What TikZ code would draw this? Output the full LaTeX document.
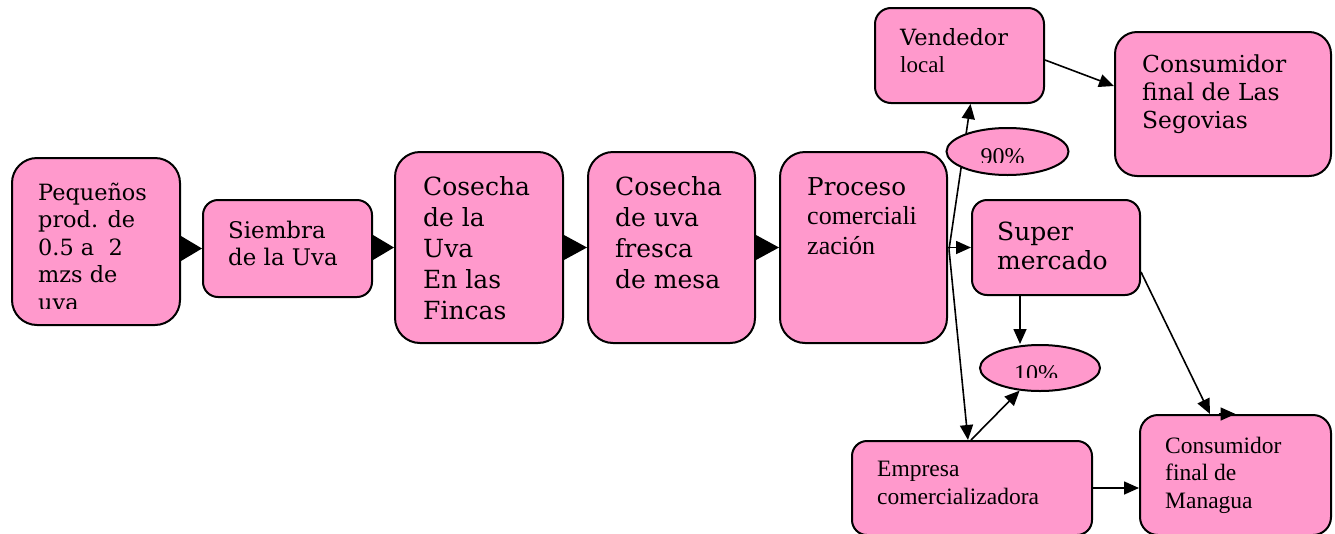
\documentclass[tikz,border=0pt]{standalone}
\usepackage{fontspec}
\setmainfont{DejaVu Serif}
\newfontfamily\tms{Liberation Serif}
\usetikzlibrary{arrows.meta,calc,shapes.geometric}
\definecolor{pk}{HTML}{FF99CC}
\begin{document}
\begin{tikzpicture}[x=1pt,y=-1pt,
  box/.style={draw, line width=2pt, fill=pk, inner sep=0pt},
  oval/.style={ellipse, draw, line width=2pt, fill=pk, inner sep=0pt},
  tx/.style={anchor=base west, inner sep=0pt},
  arr/.style={line width=1.6pt, -{Triangle[length=15pt,width=13pt]}},
  bigtri/.style={fill=black}]
\useasboundingbox (0,0) rectangle (1335,533);
% boxes
\node[box, rounded corners=25pt, minimum width=168pt, minimum height=167pt] (b1) at (96,241.5) {};
\node[box, rounded corners=15pt, minimum width=169pt, minimum height=97pt] (b2) at (287.5,248.5) {};
\node[box, rounded corners=25pt, minimum width=168pt, minimum height=191pt] (b3) at (479,247.5) {};
\node[box, rounded corners=25pt, minimum width=167pt, minimum height=191pt] (b4) at (671.5,247.5) {};
\node[box, rounded corners=25pt, minimum width=167pt, minimum height=191pt] (b5) at (863.5,247.5) {};
\node[box, rounded corners=16pt, minimum width=169pt, minimum height=95pt] (vend) at (959.5,55.5) {};
\node[box, rounded corners=22pt, minimum width=216pt, minimum height=144pt] (seg) at (1223,104) {};
\node[box, rounded corners=15pt, minimum width=168pt, minimum height=95pt] (sup) at (1056,247.5) {};
\node[box, rounded corners=15pt, minimum width=240pt, minimum height=94pt] (emp) at (972,488) {};
\node[box, rounded corners=18pt, minimum width=191pt, minimum height=120pt] (man) at (1235.5,475) {};
% texts
\begin{scope}
\clip ($(b1.north west)+(0,-5)$) rectangle ($(b1.east)+(0,66.5)$);
\node[tx] (t1) at (38,200) {\parbox[t]{140pt}{\raggedright\fontsize{22.4}{27.5}\selectfont Pequeños\\prod. de\\0.5 a\ \ 2\\mzs de\\uva}};
\end{scope}
\node[tx] (t2) at (228,238) {\parbox[t]{140pt}{\raggedright\fontsize{22.9}{27}\selectfont Siembra\\de la Uva}};
\node[tx] (t3) at (423,195) {\parbox[t]{140pt}{\raggedright\fontsize{25}{31}\selectfont Cosecha\\de la\\Uva\\En las\\Fincas}};
\node[tx] (t4) at (615,195) {\parbox[t]{140pt}{\raggedright\fontsize{25}{31}\selectfont Cosecha\\de uva\\fresca\\de mesa}};
\node[tx] (t5) at (807,195) {\parbox[t]{160pt}{\raggedright\fontsize{24.6}{29.5}\selectfont Proceso\\\tms\fontsize{26}{29.5}\selectfont comerciali\\zación}};
\node[tx] (tv) at (900,45) {\parbox[t]{140pt}{\raggedright\fontsize{22.4}{27}\selectfont Vendedor\\\tms\fontsize{23}{27}\selectfont local}};
\node[tx] (ts) at (1142,72) {\parbox[t]{180pt}{\raggedright\fontsize{23.4}{28}\selectfont Consumidor\\final de Las\\Segovias}};
\node[tx] (tsu) at (997,240) {\parbox[t]{140pt}{\raggedright\fontsize{25}{29}\selectfont Super\\mercado}};
\node[tx] (te) at (877,476) {\parbox[t]{220pt}{\raggedright\tms\fontsize{23.5}{28}\selectfont Empresa\\comercializadora}};
\node[tx] (tm) at (1165,453) {\parbox[t]{160pt}{\raggedright\tms\fontsize{23.5}{27.5}\selectfont Consumidor\\final de\\Managua}};
% big triangles of the main chain
\fill[bigtri] ($(b1.east|-b2.west)+(0,-12.5)$) -- (b2.west) -- ($(b1.east|-b2.west)+(0,12.5)$) -- cycle;
\fill[bigtri] ($(b2.east|-b3.west)+(0,-12.5)$) -- (b3.west) -- ($(b2.east|-b3.west)+(0,12.5)$) -- cycle;
\fill[bigtri] ($(b3.east)+(0,-12.5)$) -- (b4.west) -- ($(b3.east)+(0,12.5)$) -- cycle;
\fill[bigtri] ($(b4.east)+(0,-12.5)$) -- (b5.west) -- ($(b4.east)+(0,12.5)$) -- cycle;
% connectors from Proceso
\coordinate (pv) at ($(b5.east)+(1,2)$);
\draw[arr] (pv) -- ($(vend.south)+(11,0)$);
\draw[arr] (b5.east) -- (sup.west);
\draw[arr] (pv) -- ($(emp.north)+(-4,0)$);
% ellipses
\node[oval, minimum width=122pt, minimum height=47pt] (e90) at (1007.5,151.5) {};
\node[oval, minimum width=120pt, minimum height=46pt] (e10) at (1040,368) {};
\begin{scope}
\clip ($(e90.west)+(0,-30)$) rectangle ($(e90.east)+(0,10.5)$);
\node[anchor=base, inner sep=0pt] (t90) at (1002.5,164) {\tms\fontsize{24}{28}\selectfont 90\%};
\end{scope}
\begin{scope}
\clip ($(e10.west)+(0,-30)$) rectangle ($(e10.east)+(0,9)$);
\node[anchor=base, inner sep=0pt] (t10) at (1036,381.5) {\tms\fontsize{24}{28}\selectfont 10\%};
\end{scope}
% other connectors
\draw[arr] ($(vend.east)+(0,4.5)$) -- ($(seg.west)+(0,-18)$);
\coordinate (s10) at ($(sup.south)+(-36,0)$);
\draw[arr] (s10) -- (s10 |- e10.north);
\draw[arr] ($(emp.north)+(-1,0)$) -- (e10.228);
\draw[arr] ($(sup.east)+(0,24.5)$) -- ($(man.north)+(-25.5,0)$);
\draw[arr] ($(man.north)+(-17,0)$) -- (man.north);
\draw[arr] (emp.east) -- (emp.east -| man.west);
\end{tikzpicture}
\end{document}
